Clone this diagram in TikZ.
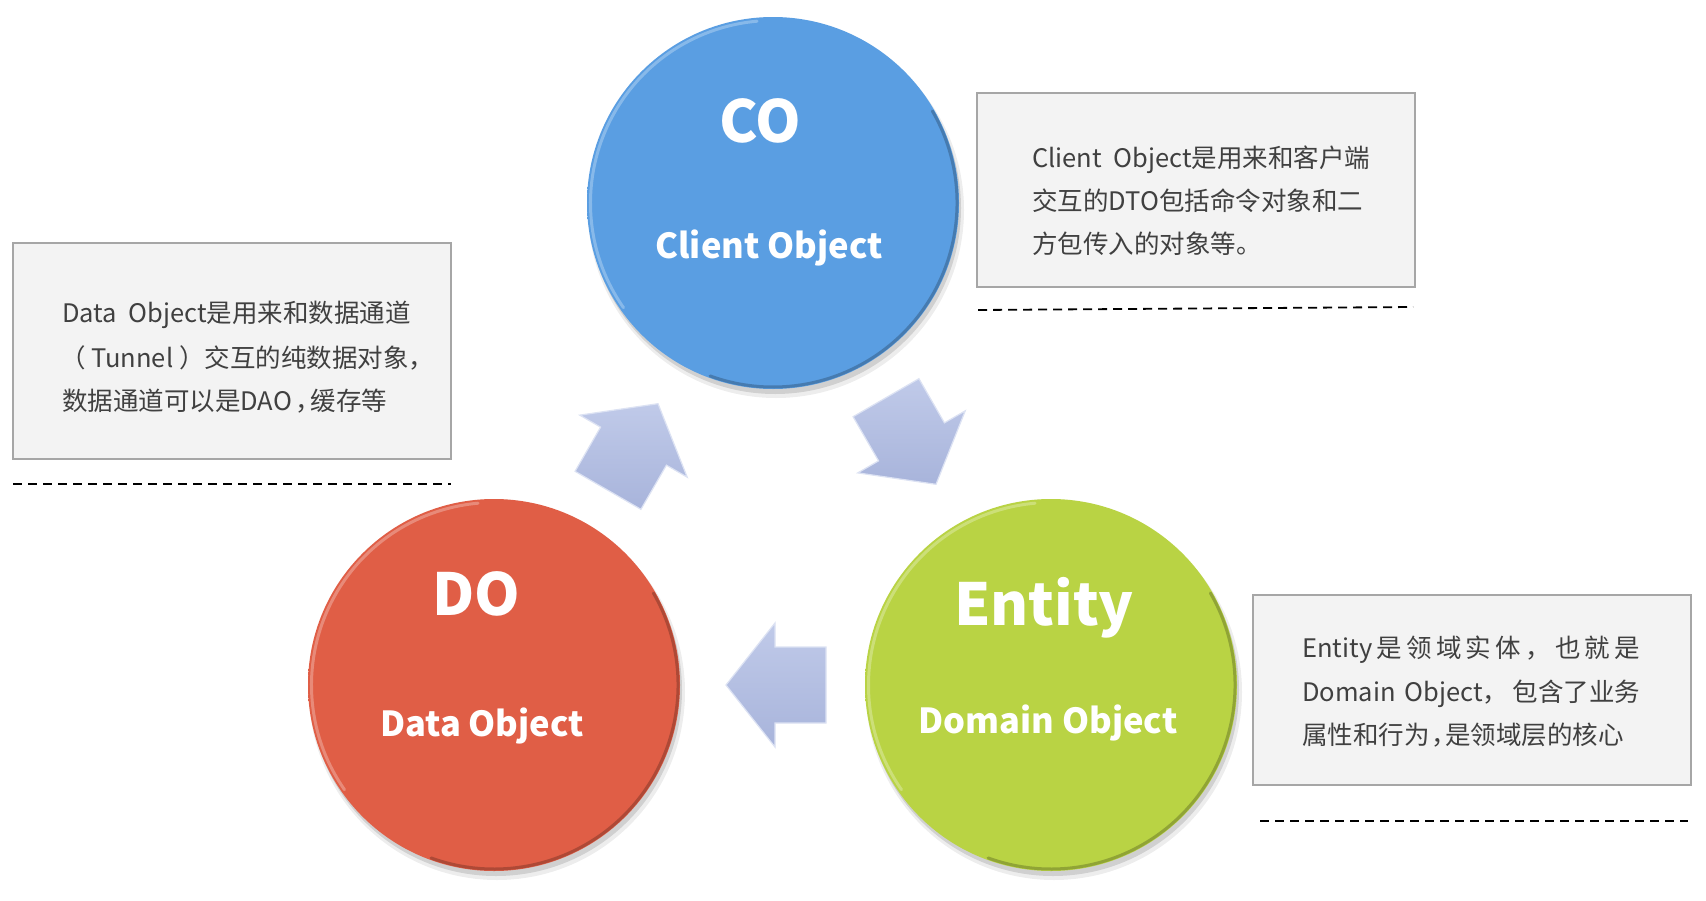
\documentclass[tikz,border=0pt]{standalone}
\usepackage{fontspec}
\setmainfont{Noto Sans CJK SC}
\usetikzlibrary{calc}
\definecolor{cob}{RGB}{90,158,226}
\definecolor{dor}{RGB}{224,94,70}
\definecolor{eng}{RGB}{185,211,68}
\definecolor{arr}{RGB}{168,180,219}
\definecolor{arrl}{RGB}{192,202,233}
\definecolor{boxf}{RGB}{243,243,243}
\definecolor{boxd}{RGB}{166,166,166}
\definecolor{txt}{RGB}{64,64,64}
\pgfdeclareradialshading{coshade}{\pgfpoint{0bp}{0bp}}{color(0bp)=(cob); color(45bp)=(cob); color(48.8bp)=(cob!90!black); color(50bp)=(cob!72!black)}
\pgfdeclareradialshading{doshade}{\pgfpoint{0bp}{0bp}}{color(0bp)=(dor); color(45bp)=(dor); color(48.8bp)=(dor!90!black); color(50bp)=(dor!72!black)}
\pgfdeclareradialshading{enshade}{\pgfpoint{0bp}{0bp}}{color(0bp)=(eng); color(45bp)=(eng); color(48.8bp)=(eng!90!black); color(50bp)=(eng!72!black)}
\begin{document}
\begin{tikzpicture}[x=1pt,y=-1pt,
  ball/.style={circle, minimum size=372pt, inner sep=0pt, shading=#1},
  bigtxt/.style={anchor=base, inner sep=0pt, text=white, font=\fontsize{58}{62}\selectfont\bfseries},
  subtxt/.style={anchor=base, inner sep=0pt, text=white, font=\fontsize{34.5}{40}\selectfont\bfseries},
  descbox/.style={draw=boxd, line width=2pt, fill=boxf, inner sep=0pt},
  line/.style={anchor=base west, inner sep=0pt, text=txt, font=\fontsize{25.5}{30}\selectfont},
  dashline/.style={draw=black, line width=1.8pt, dash pattern=on 9pt off 6pt},
  arrowshape/.style={top color=arrl, bottom color=arr, draw=arrl!55!white, line width=1.2pt, line join=miter},
  highlight/.style={white, opacity=.28, line width=3pt, line cap=round},
  rimdark/.style={black, opacity=.22, line width=3pt, line cap=round}
]
\useasboundingbox (0,0) rectangle (1706,900);
\fill[white] (0,0) rectangle (1706,900);

% centres
\coordinate (pco) at (773,203);
\coordinate (pdo) at (494,685);
\coordinate (pen) at (1051,685);

% shadows
\foreach \p in {pco,pdo,pen}{
  \fill[black, opacity=.07] ($(\p)+(3,7)$) circle (188);
  \fill[black, opacity=.12] ($(\p)+(2,5)$) circle (186);
}

% circles
\node[ball=coshade] (co) at (pco) {};
\node[ball=doshade] (do) at (pdo) {};
\node[ball=enshade] (en) at (pen) {};

\foreach \p in {pco,pdo,pen}{
  \draw[highlight] ($(\p)+(-215:182.5)$) arc[start angle=-215, end angle=-95, radius=182.5];
  \draw[rimdark] ($(\p)+(-30:184)$) arc[start angle=-30, end angle=110, radius=184];
}

% circle labels
\node[bigtxt] (coT) at (760,142) {CO};
\node[subtxt] (coS) at (769,258) {Client Object};
\node[bigtxt] (doT) at (476,615) {DO};
\node[subtxt] (doS) at (482,736) {Data Object};
\node[bigtxt] (enT) at (1044,625) {Entity};
\node[subtxt] (enS) at (1048,733) {Domain Object};

% block arrows
\begin{scope}[shift={(633,447)}, rotate=60]
  \path[arrowshape] (-50,-38) -- (1,-38) -- (1,-62) -- (50,0) -- (1,62) -- (1,38) -- (-50,38) -- cycle;
\end{scope}
\begin{scope}[shift={(911,441)}, rotate=-60]
  \path[arrowshape] (-50,-38) -- (1,-38) -- (1,-62) -- (50,0) -- (1,62) -- (1,38) -- (-50,38) -- cycle;
\end{scope}
\begin{scope}[shift={(776,685)}, rotate=180]
  \path[arrowshape] (-50,-38) -- (1,-38) -- (1,-62) -- (50,0) -- (1,62) -- (1,38) -- (-50,38) -- cycle;
\end{scope}

% description boxes
\node[descbox, minimum width=438pt, minimum height=194pt] (b1) at (1196,190) {};
\node[descbox, minimum width=438pt, minimum height=216pt] (b2) at (232,351) {};
\node[descbox, minimum width=438pt, minimum height=190pt] (b3) at (1472,690) {};

\node[line] (b1a) at (1032,167) {Client~~Object是用来和客户端};
\node[line] (b1b) at (1032,210) {交互的DTO包括命令对象和二};
\node[line] (b1c) at (1032,253) {方包传入的对象等。};

\node[line] (b2a) at (62,322) {Data~~Object是用来和数据通道};
\node[line] (b2b) at (60,367) {（ Tunnel ）交互的纯数据对象，};
\node[line] (b2c) at (62,410) {数据通道可以是DAO\kern3pt，\kern-10pt 缓存等};

\node[line] (b3a) at (1302,657) {\makebox[338pt][s]{Entity 是 领 域 实 体 ， 也 就 是}};
\node[line] (b3b) at (1302,701) {\makebox[338pt][s]{Domain~~Object， 包含了业务}};
\node[line] (b3c) at (1302,744) {属性和行为\kern2pt，\kern-12pt 是领域层的核心};

% dashed rules
\coordinate (d1s) at (978,310); \coordinate (d1e) at (1413,307);
\coordinate (d2s) at (13,484);  \coordinate (d2e) at (451,484);
\coordinate (d3s) at (1260,821); \coordinate (d3e) at (1688,821);
\draw[dashline] (d1s) -- (d1e);
\draw[dashline] (d2s) -- (d2e);
\draw[dashline] (d3s) -- (d3e);
\end{tikzpicture}
\end{document}
